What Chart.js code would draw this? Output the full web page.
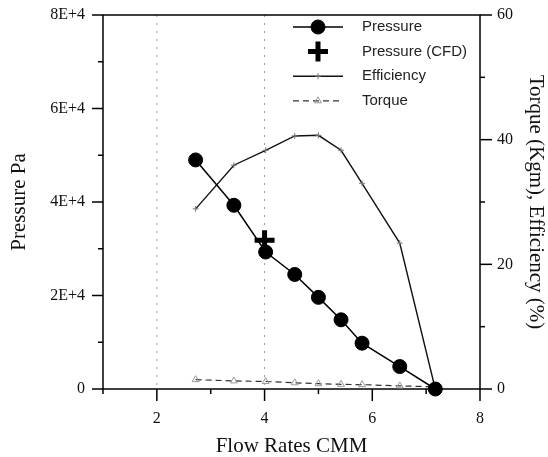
<!DOCTYPE html>
<html>
<head>
<meta charset="utf-8">
<script src="https://cdn.jsdelivr.net/npm/chart.js@4/dist/chart.umd.min.js"></script>
<style>
  html, body { margin: 0; padding: 0; background: #fff; }
  #wrap { width: 548px; height: 457px; }
</style>
</head>
<body>
<div id="wrap"><canvas id="fanChart"></canvas></div>
<script>
// flow rate (CMM) of each measured point
const flowRates = [2.72, 3.43, 4.02, 4.56, 5.0, 5.42, 5.81, 6.51, 7.17];
const pressure = [49000, 39300, 29300, 24500, 19600, 14800, 9800, 4800, 0];  // Pa
const efficiency = [28.9, 35.9, 38.3, 40.6, 40.7, 38.3, 33.0, 23.4, 0];      // %
const torque = [1.5, 1.3, 1.2, 1.0, 0.85, 0.75, 0.7, 0.5, 0.35];              // Kgm
const cfdFlow = [4.0];
const cfdPressure = [31800];
const refLines = [2, 4];  // dotted verticals

const serif = 'Liberation Serif';
const pts = (xs, ys) => xs.map((x, i) => ({ x: x, y: ys[i] }));

// frame, tick marks and dotted lines, all placed from the scales
const framePlugin = {
  id: 'frame',
  beforeDatasetsDraw(chart) {
    const { ctx, chartArea: a, scales } = chart;
    ctx.save();
    ctx.strokeStyle = '#999';
    ctx.lineWidth = 1;
    ctx.setLineDash([2, 6]);
    refLines.forEach(v => {
      const px = scales.x.getPixelForValue(v);
      ctx.beginPath(); ctx.moveTo(px, a.top); ctx.lineTo(px, a.bottom); ctx.stroke();
    });
    ctx.setLineDash([]);
    ctx.strokeStyle = '#000';
    ctx.lineWidth = 1.5;
    ctx.strokeRect(a.left, a.top, a.right - a.left, a.bottom - a.top);
    // x ticks
    for (let v = 1; v <= 8; v++) {
      const px = scales.x.getPixelForValue(v);
      const len = v % 2 === 0 ? 12 : 5;
      ctx.beginPath(); ctx.moveTo(px, a.bottom); ctx.lineTo(px, a.bottom + len); ctx.stroke();
    }
    // left ticks
    for (let v = 0; v <= 80000; v += 10000) {
      const py = scales.y.getPixelForValue(v);
      const len = v % 20000 === 0 ? 11 : 5;
      ctx.beginPath(); ctx.moveTo(a.left, py); ctx.lineTo(a.left - len, py); ctx.stroke();
    }
    // right ticks
    for (let v = 0; v <= 60; v += 10) {
      const py = scales.y2.getPixelForValue(v);
      const len = v % 20 === 0 ? 12 : 5;
      ctx.beginPath(); ctx.moveTo(a.right, py); ctx.lineTo(a.right + len, py); ctx.stroke();
    }
    ctx.restore();
  }
};

// legend in the top right of the plot
const legendPlugin = {
  id: 'boxLegend',
  afterDatasetsDraw(chart) {
    const { ctx, chartArea: a } = chart;
    ctx.save();
    chart.data.datasets.forEach((ds, i) => {
      const y = a.top + 12 + i * 24.6;
      const x1 = a.right - 187, x2 = a.right - 137, cx = (x1 + x2) / 2;
      if (ds.showLine !== false) {
        ctx.strokeStyle = ds.borderColor;
        ctx.lineWidth = ds.borderWidth;
        ctx.setLineDash(ds.borderDash || []);
        ctx.beginPath(); ctx.moveTo(x1, y); ctx.lineTo(x2, y); ctx.stroke();
        ctx.setLineDash([]);
      }
      ctx.fillStyle = ds.pointBackgroundColor;
      ctx.strokeStyle = ds.pointBorderColor;
      ctx.lineWidth = ds.pointBorderWidth;
      Chart.helpers.drawPoint(ctx, {
        pointStyle: ds.pointStyle, radius: ds.pointRadius,
        borderWidth: ds.pointBorderWidth, rotation: 0
      }, cx, y);
      ctx.fillStyle = '#222';
      ctx.font = '15px "Liberation Sans"';
      ctx.textBaseline = 'middle';
      ctx.textAlign = 'left';
      ctx.fillText(ds.label, a.right - 118, y);
    });
    ctx.restore();
  }
};

// fixed box sizes, no extra room kept for edge labels
const fitV = w => s => { s.width = w; s.paddingTop = 0; s.paddingBottom = 0; };

document.addEventListener('DOMContentLoaded', function () {
  const ctx = document.getElementById('fanChart').getContext('2d');
  new Chart(ctx, {
    type: 'line',
    data: {
      datasets: [{
        label: 'Pressure',
        data: pts(flowRates, pressure),
        yAxisID: 'y',
        borderColor: '#000', borderWidth: 1.5,
        pointStyle: 'circle', pointRadius: 7,
        pointBackgroundColor: '#000', pointBorderColor: '#000', pointBorderWidth: 1,
        tension: 0, clip: false
      }, {
        label: 'Pressure (CFD)',
        data: pts(cfdFlow, cfdPressure),
        yAxisID: 'y',
        showLine: false,
        borderColor: '#000', borderWidth: 0,
        pointStyle: 'cross', pointRadius: 10,
        pointBackgroundColor: '#000', pointBorderColor: '#000', pointBorderWidth: 5,
        clip: false
      }, {
        label: 'Efficiency',
        data: pts(flowRates, efficiency),
        yAxisID: 'y2',
        borderColor: '#111', borderWidth: 1.4,
        pointStyle: 'cross', pointRadius: 3,
        pointBackgroundColor: '#777', pointBorderColor: '#777', pointBorderWidth: 1,
        tension: 0, clip: false
      }, {
        label: 'Torque',
        data: pts(flowRates, torque),
        yAxisID: 'y2',
        borderColor: '#333', borderWidth: 1.2, borderDash: [6, 4],
        pointStyle: 'triangle', pointRadius: 4,
        pointBackgroundColor: 'rgba(255,255,255,0)', pointBorderColor: '#999', pointBorderWidth: 1,
        tension: 0, clip: false
      }]
    },
    options: {
      responsive: true,
      maintainAspectRatio: false,
      animation: false,
      layout: { padding: { top: 14, left: 0, right: 0, bottom: 0 } },
      plugins: { legend: { display: false }, tooltip: { enabled: false } },
      scales: {
        x: {
          type: 'linear', min: 1, max: 8,
          afterFit(s) { s.height = 68; s.paddingLeft = 0; s.paddingRight = 0; },
          grid: { display: false, drawTicks: false },
          border: { display: false },
          ticks: {
            stepSize: 1, autoSkip: false, maxRotation: 0, padding: 20,
            color: '#111', font: { family: serif, size: 16 },
            callback: v => (v % 2 === 0 ? v : '')
          },
          title: {
            display: true, text: 'Flow Rates CMM', color: '#111',
            font: { family: serif, size: 21, lineHeight: 1.0 },
            padding: { top: 0, bottom: 0 }
          }
        },
        y: {
          position: 'left', min: 0, max: 80000,
          afterFit: fitV(103),
          grid: { display: false, drawTicks: false },
          border: { display: false },
          ticks: {
            stepSize: 10000, autoSkip: false, padding: 18,
            color: '#111', font: { family: serif, size: 16 },
            callback: v => (v === 0 ? '0' : (v % 20000 === 0 ? (v / 10000) + 'E+4' : ''))
          },
          title: {
            display: true, text: 'Pressure Pa', color: '#111',
            font: { family: serif, size: 21 },
            padding: { top: 7, bottom: 0 }
          }
        },
        y2: {
          position: 'right', min: 0, max: 60,
          afterFit: fitV(68),
          grid: { display: false, drawTicks: false },
          border: { display: false },
          ticks: {
            stepSize: 10, autoSkip: false, padding: 17,
            color: '#111', font: { family: serif, size: 16 },
            callback: v => (v % 20 === 0 ? v : '')
          },
          title: {
            display: true, text: 'Torque (Kgm), Efficiency (%)', color: '#111',
            font: { family: serif, size: 21 },
            padding: { top: 0, bottom: 0 }
          }
        }
      }
    },
    plugins: [framePlugin, legendPlugin]
  });
});
</script>
</body>
</html>
